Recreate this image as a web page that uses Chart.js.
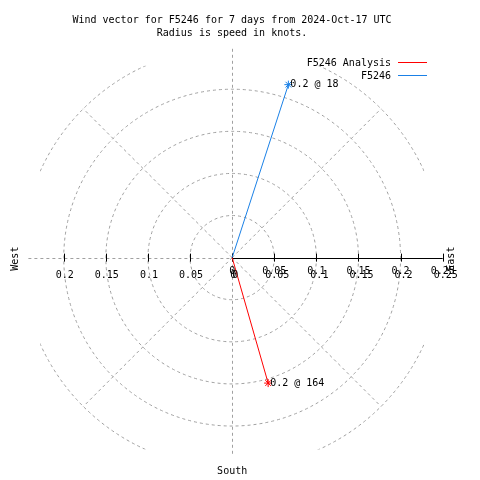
<!DOCTYPE html>
<html>
<head>
<meta charset="utf-8">
<script src="https://cdn.jsdelivr.net/npm/chart.js@4"></script>
<style>
  html, body { margin: 0; padding: 0; background: #fff; }
  canvas { display: block; }
</style>
</head>
<body>
<canvas id="myChart" width="480" height="480"></canvas>
<script>
// data
const titleLines = ["Wind vector for F5246 for 7 days from 2024-Oct-17 UTC", "Radius is speed in knots."]
const seriesNames = ["F5246 Analysis", "F5246"]
const seriesColors = ["#ff0000", "#1a80e6"]
const speeds = [0.155, 0.216]
const directions = [164, 18]
const rings = [0.05, 0.1, 0.15, 0.2, 0.25]
const leftTicks = [0.2, 0.15, 0.1, 0.05]
const leftTickLabels = ["0.2", "0.15", "0.1", "0.05", "0"]
const rightTickLabels = ["0", "0.05", "0.1", "0.15", "0.2", "0.25"]
const rightTicks = [0, 0.05, 0.1, 0.15, 0.2, 0.25]

// layout of the plot
const CX = 232, CY = 258, PPU = 860
const FONT = "10px 'DejaVu Sans Mono', monospace"
const GRID = "#a0a0a0"

function toXY(speed, dir) {
    const a = dir * Math.PI / 180
    return { x: speed * Math.sin(a), y: speed * Math.cos(a) }
}

const datasets = seriesNames.map((name, i) => ({
    label: name,
    data: [{ x: 0, y: 0 }, toXY(speeds[i], directions[i])],
    showLine: true,
    borderColor: seriesColors[i],
    borderWidth: 1,
    pointStyle: "star",
    pointRadius: [0, 4],
    pointBorderColor: seriesColors[i],
    pointBorderWidth: 1,
    pointBackgroundColor: seriesColors[i]
}))

const polarGrid = {
    id: "polarGrid",
    beforeDatasetsDraw(chart) {
        const ctx = chart.ctx
        const xs = chart.scales.x, ys = chart.scales.y
        const px = v => xs.getPixelForValue(v)
        const py = v => ys.getPixelForValue(v)
        const r = v => px(v) - px(0)
        const ox = px(0), oy = py(0)

        ctx.save()
        ctx.strokeStyle = GRID
        ctx.lineWidth = 1
        ctx.setLineDash([3, 3])

        // rings, clipped to the plot box
        ctx.save()
        ctx.beginPath()
        ctx.rect(px(-0.228), py(0.228), r(0.456), r(0.456))
        ctx.clip()
        rings.forEach(v => {
            ctx.beginPath()
            ctx.arc(ox, oy, r(v), 0, Math.PI * 2)
            ctx.stroke()
        })
        ctx.restore()

        // diagonal spokes
        ;[45, 135, 225, 315].forEach(d => {
            const p = toXY(0.25, d)
            ctx.beginPath()
            ctx.moveTo(ox, oy)
            ctx.lineTo(px(p.x), py(p.y))
            ctx.stroke()
        })

        // north-south and west dashed lines
        ctx.beginPath()
        ctx.moveTo(Math.round(ox) + 0.5, py(0.248))
        ctx.lineTo(Math.round(ox) + 0.5, py(-0.236))
        ctx.moveTo(px(-0.242), Math.round(oy) + 0.5)
        ctx.lineTo(ox, Math.round(oy) + 0.5)
        ctx.stroke()

        // solid east axis with ticks
        ctx.setLineDash([])
        ctx.strokeStyle = "#000"
        ctx.beginPath()
        ctx.moveTo(ox, Math.round(oy) + 0.5)
        ctx.lineTo(px(0.25), Math.round(oy) + 0.5)
        rightTicks.concat(leftTicks.map(v => -v)).forEach(v => {
            const x = Math.round(px(v)) + 0.5
            ctx.moveTo(x, oy - 4)
            ctx.lineTo(x, oy + 4)
        })
        ctx.stroke()
        ctx.restore()
    },
    afterDatasetsDraw(chart) {
        const ctx = chart.ctx
        const xs = chart.scales.x, ys = chart.scales.y
        const px = v => xs.getPixelForValue(v)
        const oy = ys.getPixelForValue(0)

        ctx.save()
        ctx.font = FONT
        ctx.fillStyle = "#000"
        ctx.textBaseline = "middle"

        // title
        ctx.textAlign = "center"
        titleLines.forEach((t, i) => ctx.fillText(t, 232, 20 + i * 13))

        // tick labels
        leftTickLabels.forEach((t, i) => {
            const v = i < leftTicks.length ? -leftTicks[i] : 0
            ctx.fillText(t, px(v) + 1, oy + 18)
        })
        rightTickLabels.forEach((t, i) => {
            ctx.fillText(t, px(rightTicks[i]), oy + 14)
            ctx.fillText(t, px(rightTicks[i]) + 3, oy + 18)
        })

        // compass labels
        ctx.fillText("South", px(0), 471)
        ;[["West", 15], ["East", 451]].forEach(([t, x]) => {
            ctx.save()
            ctx.translate(x, oy + 1)
            ctx.rotate(-Math.PI / 2)
            ctx.fillText(t, 0, 0)
            ctx.restore()
        })

        // point labels
        ctx.textAlign = "left"
        chart.data.datasets.forEach((ds, i) => {
            const pt = chart.getDatasetMeta(i).data[1]
            ctx.fillText(speeds[i].toFixed(1) + " @ " + directions[i], pt.x + 2, pt.y)
        })

        // legend
        chart.data.datasets.forEach((ds, i) => {
            const y = 63 + i * 13
            ctx.textAlign = "right"
            ctx.fillStyle = "#000"
            ctx.fillText(ds.label, 391, y)
            ctx.strokeStyle = ds.borderColor
            ctx.lineWidth = 1
            ctx.beginPath()
            ctx.moveTo(398, Math.round(y) - 0.5)
            ctx.lineTo(427, Math.round(y) - 0.5)
            ctx.stroke()
        })
        ctx.restore()
    }
}

new Chart(document.getElementById("myChart").getContext("2d"), {
    type: "scatter",
    data: { datasets },
    options: {
        responsive: false,
        animation: false,
        layout: { padding: 0 },
        plugins: { legend: { display: false }, tooltip: { enabled: false } },
        scales: {
            x: { display: false, min: -CX / PPU, max: (480 - CX) / PPU },
            y: { display: false, min: -(480 - CY) / PPU, max: CY / PPU }
        }
    },
    plugins: [polarGrid]
})
</script>
</body>
</html>
